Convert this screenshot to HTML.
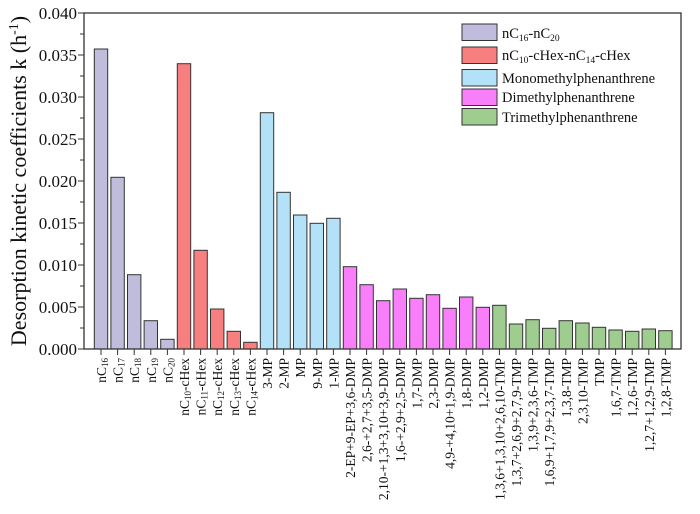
<!DOCTYPE html>
<html><head><meta charset="utf-8"><style>
html,body{margin:0;padding:0;background:#fff;}
svg{display:block;font-family:"Liberation Serif",serif;}
</style></head><body>
<svg width="700" height="514" viewBox="0 0 700 514" xmlns="http://www.w3.org/2000/svg">
<g id="bars" stroke="#333" stroke-width="1"></g>
<rect x="84" y="13" width="597" height="336" fill="none" stroke="#333" stroke-width="1.3"/>
<g id="ticks" stroke="#333" stroke-width="1"></g>
<g id="ylab" font-size="17" text-anchor="end" fill="#111"></g>
<g id="xlab" font-size="13.5" fill="#111"></g>
<text transform="translate(26,181) rotate(-90)" text-anchor="middle" font-size="22" fill="#111">Desorption kinetic coefficients k (h<tspan font-size="14" dy="-8">-1</tspan><tspan dy="8">)</tspan></text>
<g fill="#111" stroke="#333">
<rect x="462" y="24" width="35" height="16.5" fill="#c0bcdc"/>
<rect x="462" y="47" width="35" height="16.5" fill="#f77f7f"/>
<rect x="462" y="69.5" width="35" height="16.5" fill="#b3e2f8"/>
<rect x="462" y="89" width="35" height="16.5" fill="#f97ffa"/>
<rect x="462" y="108.5" width="35" height="16.5" fill="#9fcc8f"/>
</g>
<g font-size="14.5" fill="#111">
<text x="502" y="38">nC<tspan font-size="9.5" dy="3">16</tspan><tspan dy="-3">-nC</tspan><tspan font-size="9.5" dy="3">20</tspan></text>
<text x="502" y="60">nC<tspan font-size="9.5" dy="3">10</tspan><tspan dy="-3">-cHex-nC</tspan><tspan font-size="9.5" dy="3">14</tspan><tspan dy="-3">-cHex</tspan></text>
<text x="502" y="83">Monomethylphenanthrene</text>
<text x="502" y="102">Dimethylphenanthrene</text>
<text x="502" y="122">Trimethylphenanthrene</text>
</g>
<script>
const ns="http://www.w3.org/2000/svg";
const C={a:"#c0bcdc",b:"#f77f7f",c:"#b3e2f8",d:"#f97ffa",e:"#9fcc8f"};
const data=[
["nC|16","a",49],["nC|17","a",177.3],["nC|18","a",274.7],["nC|19","a",320.7],["nC|20","a",339.3],
["nC|10|-cHex","b",63.7],["nC|11|-cHex","b",250.3],["nC|12|-cHex","b",309],["nC|13|-cHex","b",331.3],["nC|14|-cHex","b",342.3],
["3-MP","c",112.7],["2-MP","c",192.3],["MP","c",215],["9-MP","c",223.3],["1-MP","c",218.3],
["2-EP+9-EP+3,6-DMP","d",266.7],["2,6-+2,7+3,5-DMP","d",284.7],["2,10-+1,3+3,10+3,9-DMP","d",300.7],["1,6-+2,9+2,5-DMP","d",289],["1,7-DMP","d",298.3],["2,3-DMP","d",294.7],["4,9-+4,10+1,9-DMP","d",308.3],["1,8-DMP","d",297],["1,2-DMP","d",307.3],
["1,3,6+1,3,10+2,6,10-TMP","e",305.3],["1,3,7+2,6,9+2,7,9-TMP","e",324],["1,3,9+2,3,6-TMP","e",319.7],["1,6,9+1,7,9+2,3,7-TMP","e",328.3],["1,3,8-TMP","e",320.7],["2,3,10-TMP","e",323],["TMP","e",327.3],["1,6,7-TMP","e",330],["1,2,6-TMP","e",331.3],["1,2,7+1,2,9-TMP","e",329],["1,2,8-TMP","e",330.7]];
const bars=document.getElementById("bars"),ticks=document.getElementById("ticks"),xl=document.getElementById("xlab"),yl=document.getElementById("ylab");
function el(t,a,p){const e=document.createElementNS(ns,t);for(const k in a)e.setAttribute(k,a[k]);p.appendChild(e);return e;}
data.forEach((d,i)=>{const cx=101+i*16.6;
el("rect",{x:cx-6.7,y:d[2],width:13.4,height:349-d[2],fill:C[d[1]]},bars);
el("line",{x1:cx,x2:cx,y1:349,y2:355},ticks);
const t=el("text",{transform:`translate(${cx+5},358) rotate(-90)`,"text-anchor":"end"},xl);
const parts=d[0].split("|");
if(parts.length==1)t.textContent=parts[0];else{
 let s=el("tspan",{},t);s.textContent=parts[0];
 s=el("tspan",{"font-size":"9",dy:"2"},t);s.textContent=parts[1];
 if(parts[2]){s=el("tspan",{dy:"-2"},t);s.textContent=parts[2];}
}});
for(let k=0;k<=16;k++){const y=349-k*21;
el("line",{x1:k%2?80:78,x2:84,y1:y,y2:y},ticks);
if(k%2==0){const t=el("text",{x:77,y:y+6},yl);t.textContent=(k*0.0025).toFixed(3);}}
</script>
</svg>
</body></html>
